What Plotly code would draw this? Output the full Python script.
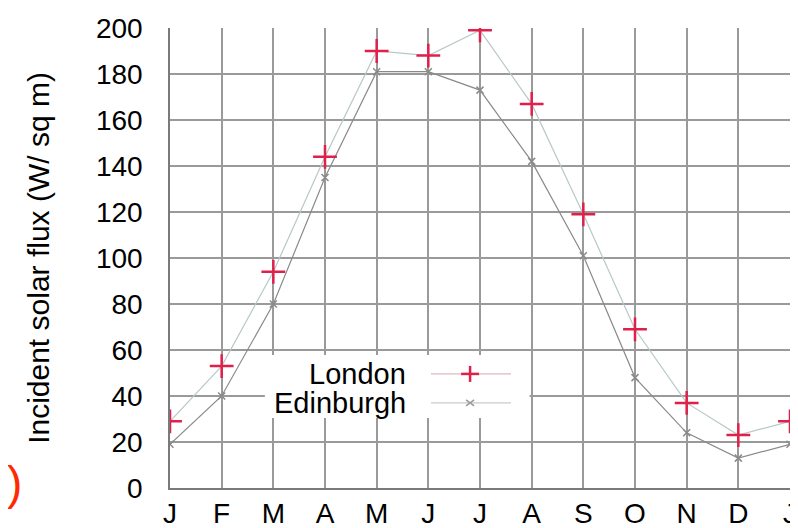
import plotly.graph_objects as go

months = ["J", "F", "M", "A", "M", "J", "J", "A", "S", "O", "N", "D", "J"]
london = [29, 53, 94, 144, 190, 188, 199, 167, 119, 69, 37, 23, 29]
edinburgh = [19, 40, 80, 135, 181, 181, 173, 142, 101, 48, 24, 13, 19]
yticks = [0, 20, 40, 60, 80, 100, 120, 140, 160, 180, 200]

x = list(range(len(months)))
font_family = "Liberation Sans, Arial, sans-serif"
PW, PH = 620.0, 460.0  # plot area in px

def px(dx):
    return dx / PW

def py(dy):
    return dy / PH

fig = go.Figure()
fig.add_trace(go.Scatter(
    x=x, y=edinburgh, mode="lines+markers", name="Edinburgh",
    line=dict(color="#8a8a8a", width=1.2),
    marker=dict(symbol="x-thin", size=7, line=dict(color="#8a8a8a", width=1.5)),
    showlegend=False,
))
fig.add_trace(go.Scatter(
    x=x, y=london, mode="lines+markers", name="London",
    line=dict(color="#b8c8c8", width=1.2),
    marker=dict(symbol="cross-thin", size=17, line=dict(color="#e0204a", width=2.5)),
    showlegend=False,
))

# manual legend (text left of symbol, as in the original)
ly_l, ly_e = 0.248, 0.185
fig.add_shape(type="rect", xref="paper", yref="paper", x0=0.153, x1=0.58, y0=0.152, y1=0.289,
              fillcolor="white", line=dict(width=0), layer="above")
fig.add_annotation(xref="paper", yref="paper", x=0.384, y=ly_l, text="London",
                   showarrow=False, xanchor="right", yanchor="middle",
                   font=dict(size=29, color="black", family=font_family))
fig.add_annotation(xref="paper", yref="paper", x=0.384, y=ly_e, text="Edinburgh",
                   showarrow=False, xanchor="right", yanchor="middle",
                   font=dict(size=29, color="black", family=font_family))
fig.add_shape(type="line", xref="paper", yref="paper", x0=0.421, x1=0.55, y0=ly_l, y1=ly_l,
              line=dict(color="#e0b8c0", width=1.2), layer="above")
fig.add_shape(type="line", xref="paper", yref="paper", x0=0.421, x1=0.55, y0=ly_e, y1=ly_e,
              line=dict(color="#c8cccc", width=1.2), layer="above")
mx = 0.484
fig.add_shape(type="line", xref="paper", yref="paper", x0=mx - px(9), x1=mx + px(9), y0=ly_l, y1=ly_l,
              line=dict(color="#e0204a", width=2.5), layer="above")
fig.add_shape(type="line", xref="paper", yref="paper", x0=mx, x1=mx, y0=ly_l - py(8), y1=ly_l + py(8),
              line=dict(color="#e0204a", width=2.5), layer="above")
fig.add_shape(type="line", xref="paper", yref="paper", x0=mx - px(4), x1=mx + px(4), y0=ly_e - py(3), y1=ly_e + py(3),
              line=dict(color="#9a9a9a", width=1.5), layer="above")
fig.add_shape(type="line", xref="paper", yref="paper", x0=mx - px(4), x1=mx + px(4), y0=ly_e + py(3), y1=ly_e - py(3),
              line=dict(color="#9a9a9a", width=1.5), layer="above")

# stray red parenthesis at the left edge
fig.add_annotation(xref="paper", yref="paper", x=-0.2516, y=0.011, text=")", showarrow=False,
                   xanchor="center", yanchor="middle",
                   font=dict(size=46, color="#ff2a00", family=font_family))

# the page body has an 8px margin, so the figure is offset by 8px
fig.update_layout(
    width=790, height=520,
    margin=dict(l=162, r=8, t=20, b=40),
    paper_bgcolor="white", plot_bgcolor="white",
    font=dict(family=font_family, color="black"),
    xaxis=dict(
        tickmode="array", tickvals=x, ticktext=months, range=[0, 12],
        showgrid=True, gridcolor="#9a9a9a", gridwidth=1.5,
        zeroline=False, showline=True, linecolor="#7a7a7a", linewidth=1.5,
        tickfont=dict(size=28, color="black"), ticks="", ticklabelstandoff=0,
        automargin=False,
    ),
    yaxis=dict(
        tickmode="array", tickvals=yticks, range=[0, 200],
        showgrid=True, gridcolor="#9a9a9a", gridwidth=1.5,
        zeroline=False, showline=True, linecolor="#7a7a7a", linewidth=1.5,
        tickfont=dict(size=28, color="black"), ticks="", ticklabelstandoff=20,
        automargin=False,
        title=dict(text="Incident solar flux (W/ sq m)", font=dict(size=30, color="black"), standoff=37),
    ),
)

fig.write_html("out.html")
